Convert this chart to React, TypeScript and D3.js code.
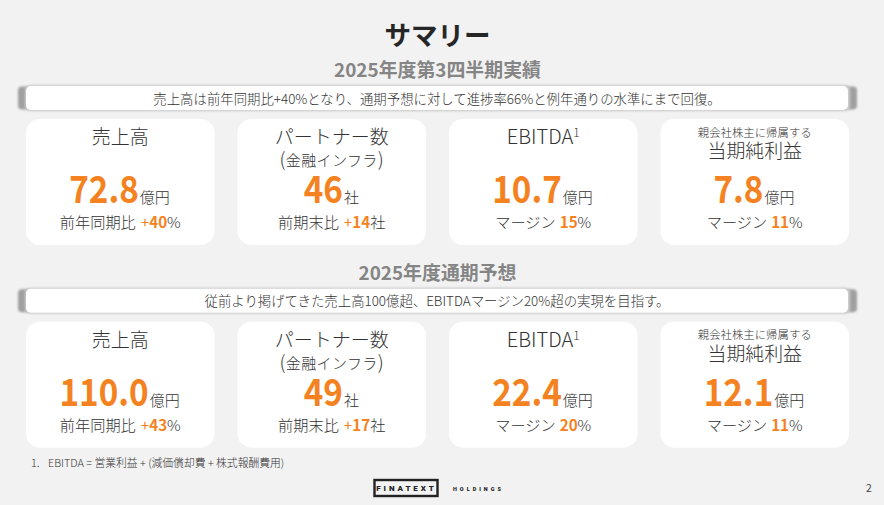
import * as d3 from 'd3';

const W = 884;
const H = 505;
const JP = '"Noto Sans CJK JP", "Noto Sans", sans-serif';
const ORANGE = '#f58220';

const title = 'サマリー';
const sectionTitles = ['2025年度第3四半期実績', '2025年度通期予想'];
const bannerTexts = [
  '売上高は前年同期比+40%となり、通期予想に対して進捗率66%と例年通りの水準にまで回復。',
  '従前より掲げてきた売上高100億超、EBITDAマージン20%超の実現を目指す。',
];
const metrics = ['sales', 'partners', 'ebitda', 'profit'];
const values = [
  ['72.8', '46', '10.7', '7.8'],
  ['110.0', '49', '22.4', '12.1'],
];
const units = ['億円', '社', '億円', '億円'];
const subLabels = ['前年同期比', '前期末比', 'マージン', 'マージン'];
const subSigns = ['+', '+', '', ''];
const subValues = [
  ['40', '14', '15', '11'],
  ['43', '17', '20', '11'],
];
const subUnits = ['%', '社', '%', '%'];
const footnote = 'EBITDA = 営業利益 + (減価償却費 + 株式報酬費用)';

const x = d3.scaleBand<string>().domain(metrics).range([26, 849]).paddingInner(0.1083).paddingOuter(0);
const sectionY = d3.scaleLinear().domain([0, 1]).range([0, 202.7]);

// the big figures are set condensed in the original
const FIGURE_SQUEEZE = 0.875;
const figureWidth = (s: string) => d3.sum(s.split(''), c => (c === '.' ? 10 : 19.7));
const UNIT_SIZE = 15;

function CardTitle({ metric, cx }: { metric: string; cx: number }) {
  const common = { textAnchor: 'middle' as const, fill: '#333', fontFamily: JP, fontWeight: 300 };
  if (metric === 'sales') {
    return <text {...common} x={cx} y={144} fontSize={19}>売上高</text>;
  }
  if (metric === 'partners') {
    return (
      <g>
        <text {...common} x={cx} y={144} fontSize={19}>パートナー数</text>
        <text {...common} x={cx} y={166} fontSize={15} letterSpacing={0.4}>
          <tspan fontSize={19}>(</tspan>金融インフラ<tspan fontSize={19}>)</tspan>
        </text>
      </g>
    );
  }
  if (metric === 'ebitda') {
    return (
      <text {...common} x={cx} y={144} fontSize={20}>
        EBITDA<tspan fontSize={12} dy={-7}>1</tspan>
      </text>
    );
  }
  return (
    <g>
      <text {...common} x={cx} y={136.5} fontSize={11.4}>親会社株主に帰属する</text>
      <text {...common} x={cx} y={158} fontSize={18.9}>当期純利益</text>
    </g>
  );
}

function Section({ index }: { index: number }) {
  const dy = sectionY(index);
  return (
    <g transform={`translate(0,${dy})`}>
      <text x={437.5} y={77} textAnchor="middle" fontFamily={JP} fontWeight={700} fontSize={18.9} fill="#858585">
        {sectionTitles[index]}
      </text>
      <rect x={18} y={86.5} width={839} height={23} rx={4} fill="#a0a0a0" filter="url(#soft)" />
      <rect x={25} y={85} width={825} height={26} rx={5} fill="#cfcfcf" filter="url(#soft)" />
      <rect x={26} y={86} width={822} height={24} rx={5} fill="#fff" />
      <text x={437} y={103.5} textAnchor="middle" fontFamily={JP} fontWeight={300} fontSize={13.4} fill="#333">
        {bannerTexts[index]}
      </text>
      {metrics.map((m, i) => {
        const left = x(m)!;
        const cx = left + x.bandwidth() / 2;
        const v = values[index][i];
        const unitWidth = units[i].length * UNIT_SIZE;
        const split = cx - 1 + (figureWidth(v) - unitWidth) / 2;
        return (
          <g key={m}>
            <rect x={left} y={119} width={x.bandwidth()} height={126} rx={14} fill="#fff" />
            <CardTitle metric={m} cx={cx} />
            <text
              transform={`translate(${split},203) scale(${FIGURE_SQUEEZE},1)`}
              textAnchor="end"
              fontFamily={JP}
              fontSize={38}
              fontWeight={700}
              fill={ORANGE}
            >
              {v}
            </text>
            <text x={split + 1} y={203} fontFamily={JP} fontSize={UNIT_SIZE} fontWeight={300} fill="#333">
              {units[i]}
            </text>
            <text x={cx} y={228} textAnchor="middle" fontFamily={JP} fontSize={15.2} fontWeight={300} fill="#333">
              {subLabels[i]}
              {subSigns[i] && <tspan fill={ORANGE} fontWeight={400} dx={5}>{subSigns[i]}</tspan>}
              <tspan fill={ORANGE} fontWeight={700} dx={subSigns[i] ? 0 : 4}>{subValues[index][i]}</tspan>
              {subUnits[i]}
            </text>
          </g>
        );
      })}
    </g>
  );
}

export default function App() {
  return (
    <svg width={W} height={H} style={{ position: 'fixed', left: 0, top: 0 }}>
      <defs>
        <filter id="soft" x="-2%" y="-20%" width="104%" height="140%">
          <feGaussianBlur stdDeviation="1" />
        </filter>
      </defs>
      <rect width={W} height={H} fill="#f2f2f2" />
      <text x={437.5} y={45} textAnchor="middle" fontFamily={JP} fontWeight={700} fontSize={26.5} fill="#262626">
        {title}
      </text>
      {sectionTitles.map((_, i) => <Section key={i} index={i} />)}
      <text x={31} y={467} fontFamily={JP} fontSize={10.8} fontWeight={300} fill="#333">1.</text>
      <text x={48} y={467} fontFamily={JP} fontSize={10.8} fontWeight={300} fill="#333">{footnote}</text>
      <rect x={374.5} y={480} width={63} height={16} fill="#f2f2f2" stroke="#222" strokeWidth={2.4} />
      <text x={406.5} y={491} textAnchor="middle" fontFamily="Roboto, sans-serif" fontWeight={900} fontSize={8} letterSpacing={2.9} fill="#222">FINATEXT</text>
      <text x={453} y={490.5} fontFamily="Roboto, sans-serif" fontWeight={900} fontSize={5.5} letterSpacing={3} fill="#222">HOLDINGS</text>
      <text x={869} y={492} textAnchor="middle" fontFamily={JP} fontSize={10.5} fill="#444">2</text>
    </svg>
  );
}
